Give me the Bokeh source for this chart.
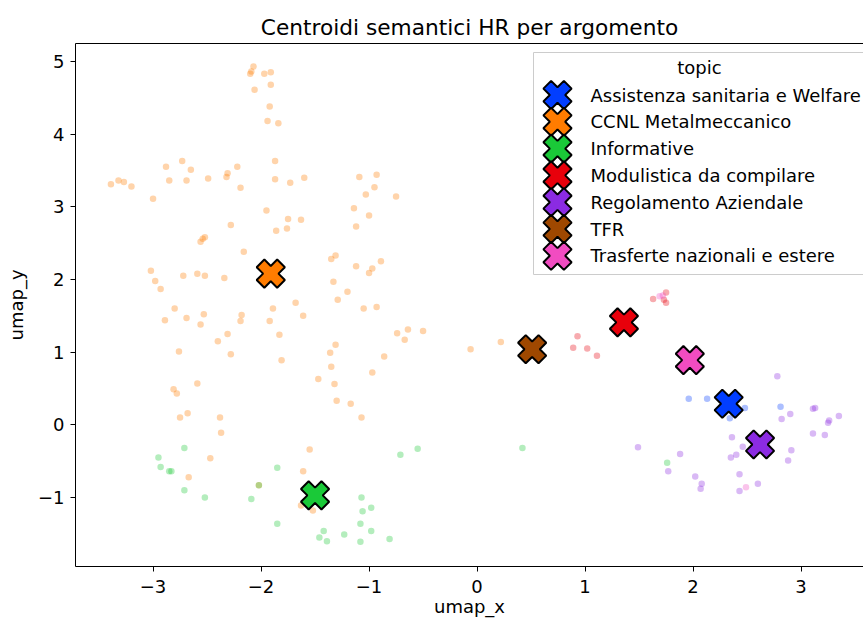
import numpy as np
from bokeh.plotting import figure
from bokeh.models import Range1d, FixedTicker, LinearAxis
from bokeh.core.properties import value
from bokeh.embed import file_html
from bokeh.resources import INLINE

# ---------------- data ----------------
topics = ["Assistenza sanitaria e Welfare", "CCNL Metalmeccanico", "Informative",
          "Modulistica da compilare", "Regolamento Aziendale", "TFR",
          "Trasferte nazionali e estere"]
palette = ["#023eff", "#ff7c00", "#1ac938", "#e8000b", "#8b2be2", "#9f4800", "#f14cc1"]

centroid_x = [2.33, -1.91, -1.50, 1.36, 2.62, 0.51, 1.97]
centroid_y = [0.29, 2.08, -0.97, 1.41, -0.27, 1.04, 0.89]

assistenza_x = [1.96, 2.13, 2.48, 2.34, 2.81]
assistenza_y = [0.36, 0.36, 0.23, 0.09, 0.25]

ccnl_x = [-2.07, -2.09, -2.10, -1.97, -1.91, -1.91, -2.06, -1.92, -1.94, -1.84,
          -1.87, -2.88, -2.73, -2.65, -2.22, -2.31, -2.32, -3.39, -3.32, -3.27,
          -3.20, -2.85, -2.69, -2.49, -1.87, -1.73, -1.60, -2.19, -1.09, -0.93,
          -0.95, -1.03, -0.75, -3.00, -1.14, -1.00, -1.95, -1.75, -1.63, -1.86,
          -1.76, -2.28, -1.12, -2.52, -2.54, -2.56, -2.16, -1.35, -1.31, -1.12,
          -1.00, -0.89, -0.97, -3.02, -2.98, -2.93, -2.72, -2.59, -2.52, -2.34,
          -1.33, -1.20, -1.29, -1.68, -1.89, -2.80, -1.05, -0.93, -2.89, -2.69,
          -2.53, -2.56, -2.18, -2.19, -1.92, -1.61, -2.31, -2.40, -1.83, -0.74,
          -0.64, -0.67, -0.50, -0.06, 0.22, -2.76, -2.28, -1.81, -1.31, -1.36,
          -1.35, -0.86, -0.97, -1.47, -1.32, -2.59, -2.81, -2.78, -1.30, -1.17,
          -2.75, -2.68, -2.38, -2.37, -1.07, -1.55, -2.47, -1.61, -2.67, -2.02,
          -1.63, -1.52]
ccnl_y = [4.93, 4.86, 4.83, 4.83, 4.85, 4.68, 4.61, 4.38, 4.18, 4.15,
          3.63, 3.55, 3.63, 3.51, 3.55, 3.46, 3.41, 3.31, 3.36, 3.34,
          3.28, 3.36, 3.36, 3.39, 3.38, 3.33, 3.40, 3.26, 3.41, 3.44,
          3.27, 3.17, 3.14, 3.11, 2.98, 2.88, 2.95, 2.83, 2.82, 2.67,
          2.70, 2.75, 2.73, 2.58, 2.56, 2.52, 2.38, 2.28, 2.33, 2.18,
          2.09, 2.25, 2.15, 2.12, 1.98, 1.87, 2.05, 2.08, 2.05, 2.02,
          1.97, 1.83, 1.72, 1.68, 1.60, 1.60, 1.60, 1.62, 1.44, 1.47,
          1.52, 1.38, 1.51, 1.43, 1.43, 1.50, 1.25, 1.15, 1.24, 1.26,
          1.31, 1.17, 1.29, 1.04, 1.14, 1.01, 0.97, 0.89, 1.10, 0.99,
          0.80, 0.94, 0.72, 0.63, 0.56, 0.57, 0.49, 0.43, 0.33, 0.29,
          0.10, 0.16, 0.10, -0.11, 0.10, -0.34, -0.46, -0.64, -0.72, -0.83,
          -1.11, -1.18]

informative_x = [-2.71, -2.95, -2.93, -2.85, -2.83, -1.85, -2.71, -2.52, -2.09, -2.02,
                 -0.71, -0.55, -1.07, -0.98, -1.06, -1.85, -1.08, -1.42, -0.98, -1.23,
                 -1.46, -1.39, -1.08, -0.81, 0.42, 1.76]
informative_y = [-0.32, -0.45, -0.58, -0.64, -0.64, -0.59, -0.90, -1.00, -1.02, -0.83,
                 -0.41, -0.33, -1.00, -1.14, -1.19, -1.36, -1.36, -1.46, -1.46, -1.51,
                 -1.55, -1.60, -1.61, -1.57, -0.32, -0.52]

modulistica_x = [1.63, 1.75, 1.73, 1.75, 0.93, 0.89, 1.02, 1.11]
modulistica_y = [1.73, 1.82, 1.72, 1.68, 1.22, 1.06, 1.05, 0.95]

regolamento_x = [2.78, 2.90, 2.82, 3.11, 3.13, 3.26, 3.25, 3.35, 3.11, 3.22,
                 2.36, 2.46, 2.91, 2.40, 2.35, 2.88, 1.49, 1.88, 1.77, 2.43,
                 2.02, 2.08, 2.07, 2.60, 2.43]
regolamento_y = [0.67, 0.15, 0.08, 0.22, 0.23, 0.06, 0.03, 0.12, -0.12, -0.14,
                 -0.17, -0.30, -0.35, -0.41, -0.45, -0.49, -0.31, -0.40, -0.64, -0.68,
                 -0.71, -0.81, -0.88, -0.81, -0.91]

tfr_x = []
tfr_y = []

trasferte_x = [1.69, 1.72, 2.49]
trasferte_y = [1.77, 1.78, -0.86]

points_x = [assistenza_x, ccnl_x, informative_x, modulistica_x, regolamento_x, tfr_x, trasferte_x]
points_y = [assistenza_y, ccnl_y, informative_y, modulistica_y, regolamento_y, tfr_y, trasferte_y]

x_ticks = [-3, -2, -1, 0, 1, 2, 3]
y_ticks = [-1, 0, 1, 2, 3, 4, 5]

# ---------------- figure ----------------
FONT = "DejaVu Sans"
FS = "18px"
W, H = 863, 619
BL, BR, BT, BB = 75, 0, 43, 53
FW, FH = W - BL - BR, H - BT - BB

p = figure(width=W, height=H, output_backend="svg", toolbar_location=None,
           x_range=Range1d(-3.718, 3.578), y_range=Range1d(-1.949, 5.246),
           min_border_left=BL, min_border_right=BR, min_border_top=BT,
           min_border_bottom=BB, x_axis_label="umap_x", y_axis_label="umap_y")
p.background_fill_color = "white"
p.border_fill_color = "white"
p.outline_line_color = None
p.xgrid.grid_line_color = None
p.ygrid.grid_line_color = None

p.title.text = "Centroidi semantici HR per argomento"
p.title.align = "center"
p.title.text_font = FONT
p.title.text_font_size = "21.7px"
p.title.text_font_style = "normal"
p.title.text_color = "black"
p.title.standoff = 8

def minus(v):
    return ("\u2212" + str(abs(v))) if v < 0 else str(v)

for ax, ticks in ((p.xaxis[0], x_ticks), (p.yaxis[0], y_ticks)):
    ax.ticker = FixedTicker(ticks=ticks)
    ax.major_label_overrides = {t: minus(t) for t in ticks}
    ax.minor_tick_line_color = None
    ax.major_tick_in = 0
    ax.major_tick_out = 5
    ax.major_tick_line_color = "black"
    ax.axis_line_color = "black"
    ax.axis_line_width = 1
    ax.major_label_text_font = FONT
    ax.major_label_text_font_size = FS
    ax.major_label_text_color = "black"
    ax.axis_label_text_font = FONT
    ax.axis_label_text_font_size = FS
    ax.axis_label_text_font_style = "normal"
    ax.axis_label_text_color = "black"
p.xaxis[0].major_label_standoff = 8
p.xaxis[0].axis_label_standoff = 0
p.yaxis[0].major_label_standoff = 6
p.yaxis[0].axis_label_standoff = 8

top_axis = LinearAxis(ticker=FixedTicker(ticks=[]), axis_line_color="black",
                      major_tick_line_color=None, minor_tick_line_color=None,
                      major_label_text_font_size="0px")
p.add_layout(top_axis, "above")

# points
for xs, ys, c in zip(points_x, points_y, palette):
    if xs:
        p.scatter(xs, ys, size=6.5, fill_color=c, fill_alpha=0.33,
                  line_color=None)

# centroids
p.scatter(centroid_x, centroid_y, marker="plus", angle=np.pi / 4, size=29,
          fill_color=palette, line_color="black", line_width=2)

# ---------------- legend (drawn in frame pixel space) ----------------
p.extra_x_ranges = {"lx": Range1d(0, FW)}
p.extra_y_ranges = {"ly": Range1d(FH, 0)}

p.quad(left=[458], right=[FW + 60], top=[9], bottom=[231], x_range_name="lx",
       y_range_name="ly", fill_color="white", fill_alpha=0.8,
       line_color="#cccccc", line_width=1)
p.text(x=[624], y=[24], text=["topic"], x_range_name="lx", y_range_name="ly",
       text_font=value(FONT), text_font_size=FS, text_align="center",
       text_baseline="middle", text_color="black")
rows = 51.5 + 26.8 * np.arange(len(topics))
p.scatter(x=[482] * len(topics), y=list(rows), marker="plus", angle=np.pi / 4,
          size=29, fill_color=palette, line_color="black", line_width=2,
          x_range_name="lx", y_range_name="ly")
p.text(x=[515] * len(topics), y=list(rows), text=topics, x_range_name="lx",
       y_range_name="ly", text_font=value(FONT), text_font_size=FS,
       text_align="left", text_baseline="middle", text_color="black")

open("out.html", "w").write(file_html(p, INLINE))
